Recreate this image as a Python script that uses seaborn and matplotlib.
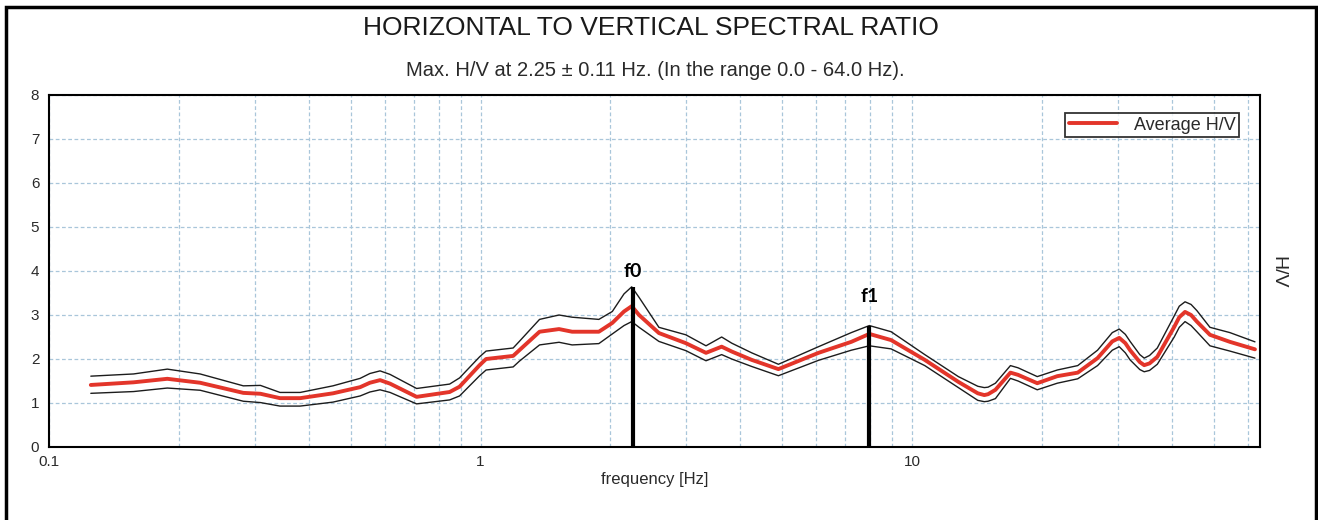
import numpy as np
import pandas as pd
import matplotlib
matplotlib.use("Agg")
import matplotlib.pyplot as plt
import matplotlib.patches as patches
from matplotlib.ticker import LogLocator, NullFormatter, FixedLocator, FixedFormatter
import seaborn as sns

# H/V curve (frequency in Hz)
freq = [0.125, 0.157, 0.188, 0.224, 0.282, 0.309, 0.343, 0.382, 0.455, 0.526,
        0.554, 0.585, 0.617, 0.711, 0.848, 0.894, 0.995, 1.03, 1.19, 1.23,
        1.37, 1.52, 1.63, 1.88, 2.02, 2.15, 2.24, 2.33, 2.59, 2.99,
        3.33, 3.62, 3.82, 4.25, 4.9, 6.07, 7.23, 7.96, 8.94, 10.7,
        12.8, 14.2, 14.7, 15.0, 15.6, 16.9, 17.6, 19.5, 21.7, 24.2,
        26.9, 29.1, 30.2, 31.2, 32.0, 33.7, 34.5, 35.5, 37.0, 40.5,
        41.6, 42.9, 44.3, 45.7, 49.0, 54.5, 62.3]
hv_mean = [1.41, 1.47, 1.55, 1.46, 1.23, 1.21, 1.11, 1.11, 1.22, 1.36,
           1.46, 1.52, 1.44, 1.14, 1.25, 1.37, 1.86, 2.00, 2.07, 2.20,
           2.62, 2.68, 2.62, 2.62, 2.82, 3.08, 3.20, 3.00, 2.59, 2.36,
           2.14, 2.28, 2.17, 1.98, 1.77, 2.14, 2.39, 2.57, 2.43, 1.98,
           1.48, 1.22, 1.18, 1.20, 1.30, 1.69, 1.64, 1.45, 1.61, 1.69,
           2.02, 2.40, 2.48, 2.36, 2.20, 1.93, 1.86, 1.90, 2.05, 2.73,
           2.95, 3.07, 3.00, 2.85, 2.55, 2.39, 2.22]
hv_upper = [1.61, 1.66, 1.77, 1.66, 1.39, 1.40, 1.24, 1.24, 1.39, 1.56,
            1.67, 1.73, 1.65, 1.33, 1.43, 1.57, 2.05, 2.18, 2.25, 2.40,
            2.90, 3.00, 2.95, 2.90, 3.08, 3.48, 3.64, 3.40, 2.72, 2.55,
            2.30, 2.50, 2.36, 2.14, 1.88, 2.28, 2.60, 2.76, 2.62, 2.10,
            1.60, 1.38, 1.35, 1.36, 1.45, 1.85, 1.80, 1.60, 1.75, 1.85,
            2.20, 2.60, 2.68, 2.56, 2.40, 2.10, 2.02, 2.08, 2.25, 2.98,
            3.20, 3.30, 3.24, 3.10, 2.72, 2.60, 2.39]
hv_lower = [1.22, 1.26, 1.34, 1.29, 1.04, 1.01, 0.93, 0.93, 1.02, 1.16,
            1.25, 1.30, 1.24, 0.98, 1.07, 1.16, 1.62, 1.75, 1.82, 1.95,
            2.32, 2.38, 2.32, 2.35, 2.57, 2.76, 2.85, 2.72, 2.40, 2.19,
            1.96, 2.10, 2.00, 1.83, 1.62, 1.97, 2.20, 2.30, 2.23, 1.85,
            1.35, 1.06, 1.03, 1.04, 1.10, 1.56, 1.50, 1.30, 1.45, 1.55,
            1.85, 2.20, 2.28, 2.14, 1.98, 1.76, 1.71, 1.74, 1.88, 2.50,
            2.72, 2.85, 2.76, 2.62, 2.30, 2.18, 2.02]

# marked peaks
peak_names = ["f0", "f1"]
peak_freq = [2.25, 7.96]
peak_top = [3.64, 2.76]
peak_label_y = [3.98, 3.41]

df = pd.DataFrame({"freq": freq, "mean": hv_mean, "upper": hv_upper, "lower": hv_lower})

sns.set_theme(style="white")
plt.rcParams["font.family"] = ["Liberation Sans", "DejaVu Sans"]

fig = plt.figure(figsize=(13.18, 5.2), dpi=100)
ax = fig.add_axes([49 / 1318, 1 - 447 / 520, (1260 - 49) / 1318, (447 - 95) / 520])

sns.lineplot(data=df, x="freq", y="upper", color="#1c1c1c", linewidth=1.0, ax=ax)
sns.lineplot(data=df, x="freq", y="lower", color="#1c1c1c", linewidth=1.0, ax=ax)
sns.lineplot(data=df, x="freq", y="mean", color="#e3352a", linewidth=2.8, ax=ax,
             label="Average H/V")

ax.vlines(peak_freq, 0, peak_top, color="black", linewidth=3.0, zorder=5)
for name, fx, fy in zip(peak_names, peak_freq, peak_label_y):
    ax.text(fx, fy, name, ha="center", va="center", fontsize=14,
            fontweight="bold", family="Lato", color="black")

ax.set_xscale("log")
ax.set_xlim(0.1, 64)
ax.set_ylim(0, 8)
ax.xaxis.set_major_locator(FixedLocator([0.1, 1, 10]))
ax.xaxis.set_major_formatter(FixedFormatter(["0.1", "1", "10"]))
ax.xaxis.set_minor_locator(LogLocator(base=10, subs=np.arange(2, 10)))
ax.xaxis.set_minor_formatter(NullFormatter())
ax.set_yticks(range(0, 9))
ax.tick_params(axis="both", which="both", length=0, labelsize=11, colors="#2a2a2a")
ax.tick_params(axis="y", pad=7)
ax.tick_params(axis="x", pad=6)

grid_kw = dict(color="#a9c6da", linestyle=(0, (3, 2)), linewidth=0.9)
ax.grid(True, axis="x", which="both", **grid_kw)
ax.grid(True, axis="y", which="major", **grid_kw)

for sp in ax.spines.values():
    sp.set_color("black")
    sp.set_linewidth(1.5)

ax.set_xlabel("frequency [Hz]", fontsize=12, color="#2a2a2a", labelpad=2)
ax.set_ylabel("")

handles, labels = ax.get_legend_handles_labels()
leg = ax.legend(handles, labels, loc="upper right", bbox_to_anchor=(1239 / 1318, 1 - 113 / 520),
                bbox_transform=fig.transFigure, fontsize=13, frameon=True, fancybox=False,
                borderpad=0.2, handlelength=2.7, handletextpad=0.9, borderaxespad=0)
leg.get_frame().set_edgecolor("black")
leg.get_frame().set_linewidth(1.3)
for t in leg.get_texts():
    t.set_color("#2a2a2a")

fig.text(1278 / 1318, 1 - 272 / 520, "H/V", rotation=270, ha="center", va="center",
         fontsize=14, color="#2a2a2a")

fig.text(651 / 1318, 1 - 28 / 520, "HORIZONTAL TO VERTICAL SPECTRAL RATIO",
         ha="center", va="center", fontsize=19, color="#1a1a1a")
fig.text(655 / 1318, 1 - 70 / 520,
         "Max. H/V at 2.25 \u00b1 0.11 Hz. (In the range 0.0 - 64.0 Hz).",
         ha="center", va="center", fontsize=14.5, color="#2a2a2a")

# outer frame
frame = patches.Rectangle((6 / 1318, -0.1), (1316 - 6) / 1318, 1.1 - 7 / 520,
                          transform=fig.transFigure, fill=False, edgecolor="black",
                          linewidth=2.5, clip_on=False)
fig.add_artist(frame)

fig.savefig("out.png", dpi=100)
